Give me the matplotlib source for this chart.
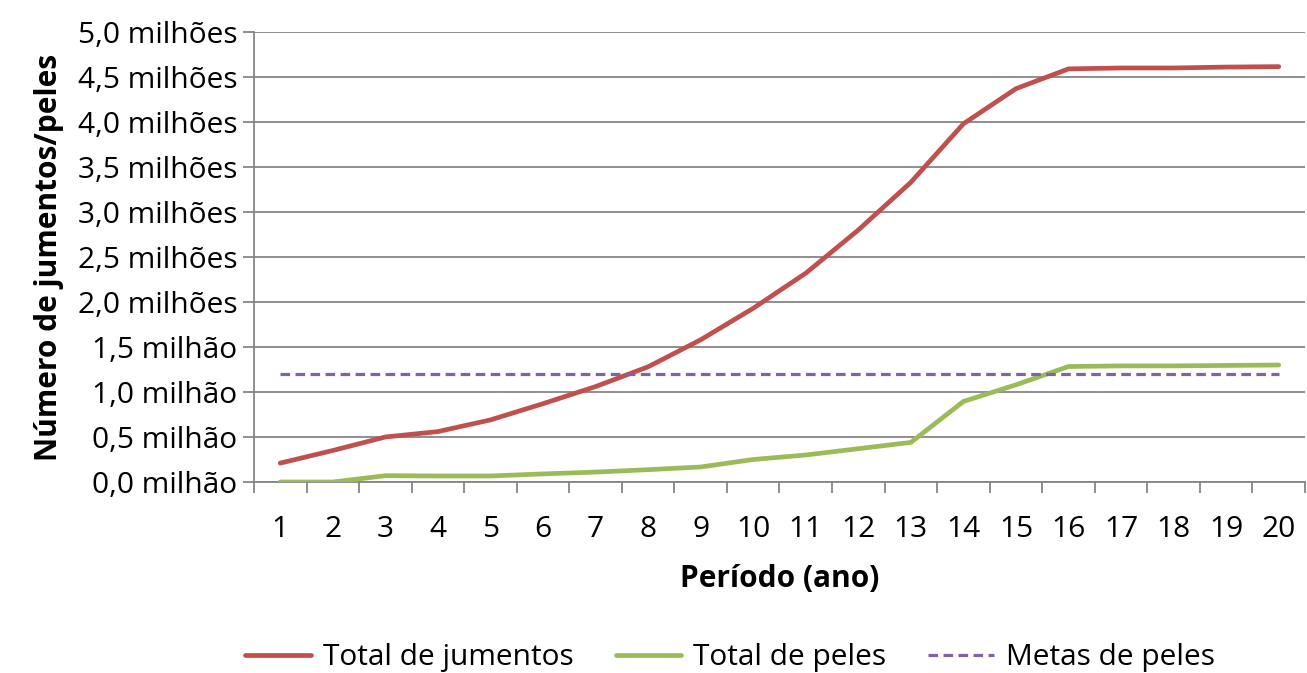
import numpy as np
import matplotlib.pyplot as plt
from matplotlib.ticker import FixedLocator

plt.rcParams['font.family'] = ['Open Sans', 'DejaVu Sans']

# Periodo (ano) 1..20
Periodo = list(range(1, 21))

# valores em milhoes
TotalJumentos = [0.21, 0.35, 0.50, 0.56, 0.69, 0.87, 1.06, 1.28, 1.58, 1.93,
                 2.32, 2.80, 3.33, 3.98, 4.37, 4.59, 4.60, 4.60, 4.61, 4.615]
TotalPeles = [0.0, 0.0, 0.07, 0.067, 0.067, 0.09, 0.11, 0.137, 0.167, 0.25,
              0.30, 0.37, 0.44, 0.895, 1.08, 1.283, 1.29, 1.29, 1.295, 1.30]
MetasPeles = [1.2] * 20

YTicks = [0.0, 0.5, 1.0, 1.5, 2.0, 2.5, 3.0, 3.5, 4.0, 4.5, 5.0]
YLabels = ['0,0 milhão', '0,5 milhão', '1,0 milhão', '1,5 milhão', '2,0 milhões',
           '2,5 milhões', '3,0 milhões', '3,5 milhões', '4,0 milhões', '4,5 milhões',
           '5,0 milhões']

grey = '#868686'

fig = plt.figure(figsize=(13.07, 6.73), dpi=100)
ax1 = fig.add_axes([0.1943, 0.2838, 0.8042, 0.6687])

ax1.plot(Periodo, TotalJumentos, '-', color='#C0504D', lw=3.4, solid_capstyle='round',
         label='Total de jumentos', zorder=3)
ax1.plot(Periodo, TotalPeles, '-', color='#9BBB59', lw=3.4, solid_capstyle='round',
         label='Total de peles', zorder=3)
ax1.plot(Periodo, MetasPeles, '--', color='#8064A2', lw=2.3, dashes=(3.0, 1.7),
         label='Metas de peles', zorder=3)

ax1.set_xlim(0.5, 20.5)
ax1.set_ylim(0, 5.0)

ax1.set_yticks(YTicks)
ax1.set_yticklabels(YLabels, fontsize=21.5)
ax1.yaxis.grid(True, color=grey, lw=1.3)
ax1.set_axisbelow(True)

ax1.set_xticks(Periodo)
ax1.set_xticklabels([str(p) for p in Periodo], fontsize=21.5)
ax1.xaxis.set_minor_locator(FixedLocator(np.arange(0.5, 21, 1)))
ax1.tick_params(axis='x', which='major', length=0, pad=24)
ax1.tick_params(axis='x', which='minor', length=8, width=1.3, color=grey)
ax1.tick_params(axis='y', length=8, width=1.3, color=grey, pad=4)

for s in ['top', 'right']:
    ax1.spines[s].set_visible(False)
for s in ['left', 'bottom']:
    ax1.spines[s].set_color(grey)
    ax1.spines[s].set_linewidth(1.3)

ax1.set_ylabel('Número de jumentos/peles', fontsize=21.5, fontweight='bold', labelpad=10)
ax1.set_xlabel('Período (ano)', fontsize=21.5, fontweight='bold', labelpad=14)

ax1.legend(loc='center', bbox_to_anchor=(0.453, -0.39), ncol=3, frameon=False,
           fontsize=21.5, handlelength=2.2, columnspacing=1.4, handletextpad=0.4)

fig.savefig('out.png', dpi=100)
